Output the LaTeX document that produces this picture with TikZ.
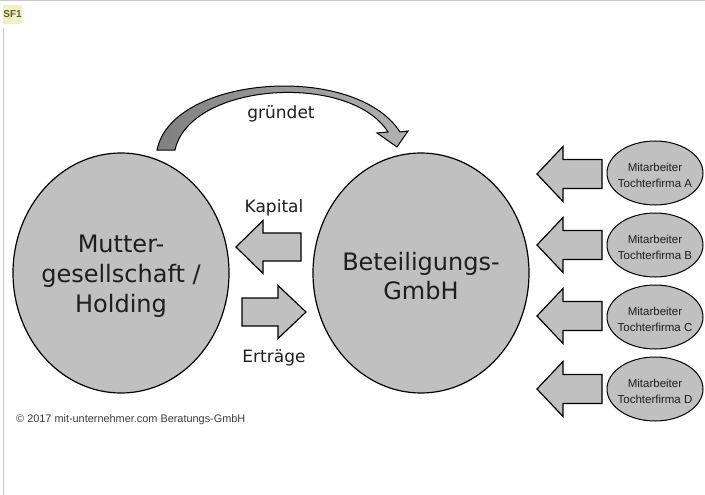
\documentclass[tikz,border=0pt]{standalone}
\usepackage{fontspec}
\setmainfont{DejaVu Sans}
\newfontfamily\arialf{Liberation Sans}
\usetikzlibrary{shapes.geometric}
\definecolor{fillgray}{RGB}{192,192,192}
\definecolor{txtgray}{RGB}{30,30,30}
\definecolor{lineframe}{RGB}{200,200,200}
\definecolor{sfbg}{RGB}{240,240,196}
\definecolor{sftxt}{RGB}{95,95,35}
\definecolor{copytxt}{RGB}{60,60,60}
\definecolor{curvedark}{RGB}{128,128,128}
\definecolor{curvelight}{RGB}{178,178,178}
\tikzset{
  bigell/.style={ellipse, draw=black, line width=1.2pt, fill=fillgray,
    minimum width=216pt, minimum height=240pt, inner sep=0pt},
  smallell/.style={ellipse, draw=black, line width=1pt, fill=fillgray,
    minimum width=96pt, minimum height=64pt, inner sep=0pt},
  bigtxt/.style={align=center, text=txtgray, inner sep=0pt,
    font=\fontsize{24}{30}\selectfont},
  smalltxt/.style={align=center, text=txtgray, inner sep=0pt,
    font=\arialf\fontsize{11.5}{16}\selectfont},
  lbl/.style={text=txtgray, inner sep=0pt, font=\fontsize{17}{20}\selectfont},
  blockarrow/.style={draw=black, line width=1.2pt, fill=fillgray, line join=miter},
}
\begin{document}
\begin{tikzpicture}[x=1pt,y=-1pt]
\useasboundingbox (0,0) rectangle (705,495);
\fill[white] (0,0) rectangle (705,495);
% frame
\draw[lineframe, line width=1pt] (0,0.5) -- (705,0.5);
\draw[lineframe, line width=1pt] (3.5,28) -- (3.5,495);
% SF1 tag
\node[fill=sfbg, minimum width=19pt, minimum height=19pt, inner sep=0pt,
  font=\arialf\bfseries\fontsize{10}{10}\selectfont, text=sftxt] (sf) at (12.5,14.5) {SF1};

% curved arrow "gruendet"
\path[draw=black, line width=1pt, left color=curvedark, right color=curvelight]
  (157,150) .. controls (172,75) and (355,62) .. (400,132)
  -- (408,131) -- (397,147) -- (377,133) -- (388,132)
  .. controls (350,72) and (190,82) .. (175,150) -- cycle;
\node[lbl, anchor=base] (gruendet) at (281,118) {gründet};

% big ellipses
\node[bigell] (mutter) at (121,273) {};
\node[bigtxt] (muttertxt) at (121,276) {Mutter-\\gesellschaft /\\Holding};
\node[bigell] (beteil) at (421,273) {};
\node[bigtxt, font=\fontsize{24}{29}\selectfont] (beteiltxt) at (421,276) {Beteiligungs-\\GmbH};

% Kapital / Ertraege arrows
\node[lbl, anchor=base] (kapital) at (274,212) {Kapital};
\draw[blockarrow] (236,247) -- (263,220.5) -- (263,233) -- (301,233)
  -- (301,261) -- (263,261) -- (263,273.5) -- cycle;
\draw[blockarrow] (306,312) -- (278,285.5) -- (278,298) -- (242,298)
  -- (242,326) -- (278,326) -- (278,338.5) -- cycle;
\node[lbl, anchor=base] (ertraege) at (274,362) {Erträge};

% right side arrows
\foreach \y in {174,245,316,389}{
  \draw[blockarrow] (537,\y) -- (563,{\y-27.5}) -- (563,{\y-14.5}) -- (602,{\y-14.5})
    -- (602,{\y+14.5}) -- (563,{\y+14.5}) -- (563,{\y+27.5}) -- cycle;
}
% small ellipses
\foreach \y/\l in {173/A,245/B,317/C,389/D}{
  \node[smallell] (ma\l) at (655,\y) {};
  \node[smalltxt] (mt\l) at (655,{\y+2}) {Mitarbeiter\\Tochterfirma \l};
}

% copyright
\node[anchor=base west, inner sep=0pt, text=copytxt,
  font=\arialf\fontsize{10.9}{12}\selectfont] (copy) at (16,422)
  {© 2017 mit-unternehmer.com Beratungs-GmbH};
\end{tikzpicture}
\end{document}
